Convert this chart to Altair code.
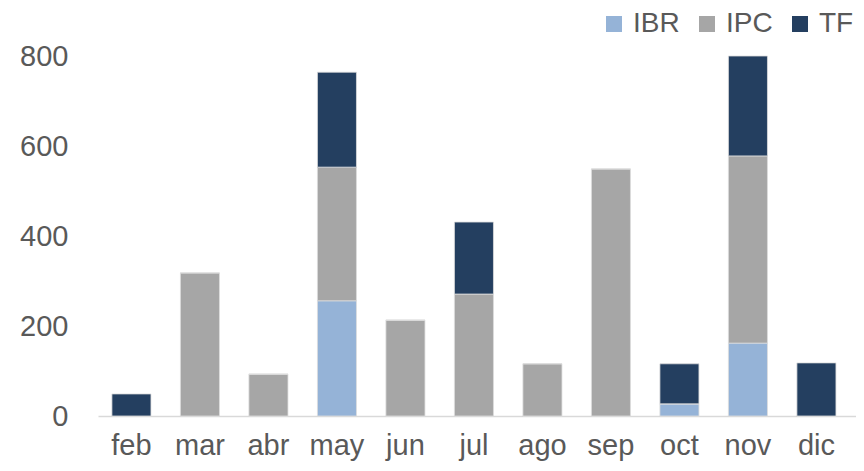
import altair as alt
import pandas as pd

months = ["feb", "mar", "abr", "may", "jun", "jul", "ago", "sep", "oct", "nov", "dic"]
ibr = [0, 0, 0, 256, 0, 0, 0, 0, 27, 162, 0]
ipc = [0, 318, 93, 297, 213, 271, 116, 549, 0, 416, 0]
tf = [49, 0, 0, 211, 0, 160, 0, 0, 89, 222, 118]

series = ["IBR", "IPC", "TF"]
colors = ["#95B3D7", "#A6A6A6", "#243F60"]

rows = []
for i, m in enumerate(months):
    for k, (s, vals) in enumerate(zip(series, [ibr, ipc, tf])):
        rows.append({"mes": m, "serie": s, "valor": vals[i], "orden": k})
df = pd.DataFrame(rows)

FONT = "Liberation Sans"

chart = alt.Chart(df).mark_bar(stroke="#DDDDDD", strokeWidth=0.8).encode(
    x=alt.X("mes:N", sort=months, title=None,
            scale=alt.Scale(paddingInner=0.43, paddingOuter=0.248, align=0.41),
            axis=alt.Axis(labelAngle=0, labelFont=FONT, labelFontSize=29,
                          labelColor="#595959", ticks=False, domainColor="#D9D9D9",
                          domainWidth=1.5, labelPadding=15)),
    y=alt.Y("valor:Q", stack="zero", title=None,
            scale=alt.Scale(domain=[0, 800], nice=False),
            axis=alt.Axis(values=[0, 200, 400, 600, 800], grid=False, domain=False, ticks=False,
                          labelFont=FONT, labelFontSize=29,
                          labelColor="#595959", labelPadding=30)),
    color=alt.Color("serie:N", scale=alt.Scale(domain=series, range=colors),
                    legend=alt.Legend(title=None, orient="none", direction="horizontal",
                                      legendX=502, legendY=-46, symbolType="square",
                                      symbolSize=256, symbolStrokeWidth=0,
                                      labelFont=FONT, labelFontSize=28,
                                      labelColor="#595959", columnPadding=13, labelOffset=5)),
    order=alt.Order("orden:Q", sort="ascending"),
).properties(
    width=758, height=360,
    autosize=alt.AutoSizeParams(type="none"),
    padding={"left": 90, "top": 48, "right": 0, "bottom": 47},
).configure_view(stroke=None)

chart.save("out.html", embed_options={"renderer": "svg", "actions": False})
